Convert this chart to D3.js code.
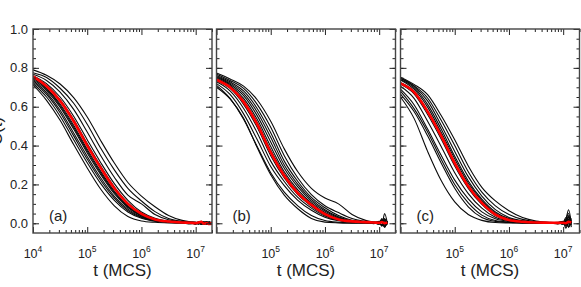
<!DOCTYPE html>
<html><head><meta charset="utf-8">
<script src="https://cdn.jsdelivr.net/npm/d3@7"></script>
<style>body{margin:0;background:#fff}svg{display:block}</style>
</head><body>
<svg id="chart" width="581" height="287"></svg>
<script>
// ---- data ----
const times = [1e4,1.778e4,3.162e4,5.623e4,1e5,1.778e5,3.162e5,5.623e5,1e6,1.778e6,3.162e6,5.623e6,7.943e6,1e7,1.122e7,1.259e7,1.413e7,1.585e7,1.778e7,1.995e7];
const panelLabels = ["(a)","(b)","(c)"];
const yTickValues = [0,0.2,0.4,0.6,0.8,1.0];
const xMajorTicks = [1e4,1e5,1e6,1e7];
const xTitle = "t (MCS)";
const yTitle = "C(t)";

const redA = [.756,.705,.63,.525,.40,.285,.18,.10,.048,.02,.009,.004,.003,.001,.004,.008,-.002,.001,-.004,.002];
const runsA = [
 [.79,.762,.717,.647,.547,.425,.31,.21,.14,.085,.04,.015,.008,.006,.0,.01,.004,-.006,.008,-.002],
 [.775,.75,.695,.618,.51,.386,.275,.18,.115,.06,.025,.01,.006,.004,-.003,.006,.002,.009,-.004,.003],
 [.767,.735,.675,.586,.47,.348,.237,.145,.10,.045,.018,.008,.004,.002,.006,-.002,.005,.0,.007,-.005],
 [.76,.719,.65,.551,.43,.312,.204,.118,.058,.026,.011,.005,.004,.001,-.004,.003,.008,-.001,.004,.0],
 [.748,.695,.614,.505,.381,.267,.166,.09,.043,.018,.008,.004,.0,-.003,.004,.0,-.005,.006,.002,-.003],
 [.742,.683,.598,.485,.362,.25,.152,.081,.038,.016,.007,.004,.002,-.002,.005,-.004,.006,.001,-.005,.004],
 [.735,.672,.582,.465,.344,.233,.139,.073,.033,.013,.007,.004,.0,.003,-.004,.002,.007,-.003,.003,-.006],
 [.728,.663,.569,.45,.33,.22,.13,.066,.03,.012,.006,.003,.004,-.003,.002,-.006,.004,.008,-.002,.001],
 [.72,.65,.551,.43,.312,.204,.118,.058,.026,.011,.005,.003,-.004,.002,.006,-.003,.0,.005,-.004,.007],
 [.713,.633,.53,.405,.285,.175,.09,.035,.012,.005,.002,.001,.003,-.005,.002,.004,-.003,.006,-.002,.003],
 [.75,.69,.606,.495,.372,.258,.159,.085,.04,.017,.008,.004,.002,.004,-.002,.005,-.006,.003,.008,-.003],
 [.757,.71,.637,.534,.41,.294,.188,.105,.051,.022,.009,.005,.003,-.002,.006,-.001,.004,-.005,.002,.006]
];

const redB = [.739,.70,.625,.51,.365,.245,.155,.095,.047,.02,.01,.006,.004,.003,.006,.0,.005];
const runsB = [
 [.773,.743,.706,.636,.525,.383,.265,.18,.13,.10,.045,.015,.007,.003,.012,-.02,.01],
 [.767,.735,.694,.612,.494,.348,.233,.147,.09,.055,.025,.01,.005,.006,-.012,.025,-.004],
 [.761,.728,.681,.591,.466,.32,.215,.133,.08,.04,.016,.008,.003,.002,.015,-.015,.008],
 [.756,.722,.669,.573,.443,.30,.20,.123,.07,.033,.013,.007,.004,.0,-.01,.05,.0],
 [.751,.716,.657,.554,.419,.283,.187,.114,.063,.029,.012,.005,.003,.005,.02,-.01,.012],
 [.745,.71,.643,.535,.395,.265,.172,.105,.056,.025,.011,.005,.002,-.004,.01,.018,-.006],
 [.742,.704,.632,.52,.377,.253,.162,.099,.05,.022,.01,.005,.004,.008,-.015,.012,.006],
 [.735,.694,.612,.494,.348,.233,.147,.088,.043,.018,.009,.004,.006,-.005,.025,-.01,.004],
 [.728,.681,.591,.466,.32,.215,.133,.078,.037,.016,.008,.003,.001,.01,.005,-.02,.008],
 [.719,.663,.563,.431,.292,.194,.118,.067,.031,.013,.006,.003,.002,.0,-.008,.015,.005],
 [.70,.64,.54,.39,.25,.145,.075,.025,.006,.002,.0,.003,-.002,.004,-.01,.02,.0],
 [.71,.643,.535,.395,.26,.16,.09,.04,.014,.005,.002,.0,.003,-.004,.012,.0,-.006]
];

const redC = [.72,.675,.575,.45,.31,.19,.105,.045,.017,.008,.004,.003,.002,.003,.0,.008,.004];
const runsC = [
 [.752,.715,.662,.555,.43,.295,.185,.115,.065,.03,.012,.005,.003,.006,-.01,.04,-.02],
 [.748,.708,.645,.53,.40,.265,.16,.09,.045,.02,.008,.004,.002,-.005,.02,.07,.0],
 [.745,.705,.63,.505,.37,.24,.14,.07,.03,.013,.006,.003,.004,.008,-.015,.03,.01],
 [.74,.698,.612,.485,.345,.218,.124,.058,.024,.011,.005,.003,.001,.0,.012,-.02,.025],
 [.738,.69,.598,.468,.332,.207,.117,.052,.021,.01,.005,.003,.005,-.004,.02,.05,-.01],
 [.715,.666,.56,.434,.295,.18,.097,.04,.016,.008,.004,.002,.003,.01,-.025,.015,.005],
 [.705,.643,.525,.395,.26,.153,.078,.031,.013,.007,.004,.002,.0,.004,.03,-.01,.008],
 [.69,.61,.485,.35,.222,.126,.059,.023,.01,.005,.003,.001,.002,-.003,.01,.035,.0],
 [.68,.59,.47,.33,.20,.105,.042,.014,.006,.003,.002,.0,.004,.006,-.008,.02,.004],
 [.665,.575,.45,.31,.18,.085,.03,.01,.004,.002,.0,.003,-.002,.005,.015,-.02,.01],
 [.65,.54,.37,.22,.11,.045,.015,.004,.002,.001,.0,.002,-.003,.004,.012,.0,-.005],
 [.725,.68,.58,.455,.315,.195,.108,.047,.018,.009,.004,.003,.002,.006,-.006,.03,.002]
];

const panels = [
 {label: panelLabels[0], red: redA, runs: runsA, labels: [1e4,1e5,1e6,1e7]},
 {label: panelLabels[1], red: redB, runs: runsB, labels: [1e5,1e6,1e7]},
 {label: panelLabels[2], red: redC, runs: runsC, labels: [1e5,1e6,1e7]}
];

// ---- layout ----
const FONT = "'Liberation Sans', Arial, Helvetica, sans-serif";
const lefts = [33, 216.5, 400.5];
const W = 179, TOP = 29, BOT = 233;
const svg = d3.select("#chart");
svg.append("rect").attr("width",581).attr("height",287).attr("fill","#fff");

const y = d3.scaleLinear().domain([-0.05, 1.0]).range([BOT, TOP]);
const xMinor = [];
for (let k = 4; k <= 7; k++) for (let m = 2; m <= 9; m++) { const v = m * Math.pow(10,k); if (v <= 2e7) xMinor.push(v); }
const yMinor = d3.range(0, 1.0001, 0.05);

function styleAxis(g){
  g.select(".domain").remove();
  g.selectAll(".tick line").attr("stroke","#222").attr("stroke-width",1);
  g.selectAll(".tick text").remove();
}

panels.forEach((p, i) => {
  const L = lefts[i];
  const x = d3.scaleLog().domain([1e4, 2e7]).range([L, L + W]);
  const g = svg.append("g");
  const cid = "clip" + i;
  svg.append("clipPath").attr("id", cid).append("rect")
    .attr("x", L).attr("y", TOP).attr("width", W).attr("height", BOT - TOP);
  const plot = g.append("g").attr("clip-path", `url(#${cid})`);
  const line = d3.line().x((d, j) => x(times[j])).y(d => y(d)).curve(d3.curveMonotoneX);
  p.runs.forEach(r => {
    plot.append("path").attr("d", line(r)).attr("fill","none")
      .attr("stroke","#0a0a0a").attr("stroke-width",1.1);
  });
  plot.append("path").attr("d", line(p.red)).attr("fill","none")
    .attr("stroke","#ff0000").attr("stroke-width",2.6).attr("stroke-linejoin","round");

  // ticks (all pointing inward)
  g.append("g").attr("transform",`translate(0,${BOT})`).call(d3.axisBottom(x).tickValues(xMinor).tickSize(-3)).call(styleAxis);
  g.append("g").attr("transform",`translate(0,${BOT})`).call(d3.axisBottom(x).tickValues(xMajorTicks).tickSize(-6)).call(styleAxis);
  g.append("g").attr("transform",`translate(0,${TOP})`).call(d3.axisTop(x).tickValues(xMinor).tickSize(-3)).call(styleAxis);
  g.append("g").attr("transform",`translate(0,${TOP})`).call(d3.axisTop(x).tickValues(xMajorTicks).tickSize(-6)).call(styleAxis);
  g.append("g").attr("transform",`translate(${L},0)`).call(d3.axisLeft(y).tickValues(yMinor).tickSize(-3)).call(styleAxis);
  g.append("g").attr("transform",`translate(${L},0)`).call(d3.axisLeft(y).tickValues(yTickValues).tickSize(-6)).call(styleAxis);
  g.append("g").attr("transform",`translate(${L+W},0)`).call(d3.axisRight(y).tickValues(yMinor).tickSize(-3)).call(styleAxis);
  g.append("g").attr("transform",`translate(${L+W},0)`).call(d3.axisRight(y).tickValues(yTickValues).tickSize(-6)).call(styleAxis);

  // frame
  g.append("rect").attr("x", L).attr("y", TOP).attr("width", W).attr("height", BOT - TOP)
    .attr("fill","none").attr("stroke","#444").attr("stroke-width",1.4);

  // x tick labels
  p.labels.forEach(v => {
    const t = g.append("text").attr("x", x(v)).attr("y", 258).attr("text-anchor","middle")
      .attr("font-family", FONT).attr("font-size", 12.5).attr("fill","#222");
    t.append("tspan").text("10");
    t.append("tspan").attr("font-size", 8.5).attr("dy", -6).text(Math.round(Math.log10(v)));
  });

  // x title
  g.append("text").attr("x", L + W/2).attr("y", 276).attr("text-anchor","middle")
    .attr("font-family", FONT).attr("font-size", 17).attr("fill","#222").text(xTitle);

  // panel label
  g.append("text").attr("x", L + 16).attr("y", 221)
    .attr("font-family", FONT).attr("font-size", 15).attr("fill","#222").text(p.label);

  if (i === 0) {
    yTickValues.forEach(v => {
      g.append("text").attr("x", 28).attr("y", y(v) + 4.5).attr("text-anchor","end")
        .attr("font-family", FONT).attr("font-size", 13).attr("fill","#222").text(v.toFixed(1));
    });
  }
});

// y title: in the reference it sits mostly beyond the left edge, only a sliver shows
svg.append("text").attr("transform","translate(2,131) rotate(-90)").attr("text-anchor","middle")
  .attr("font-family", FONT).attr("font-size", 17).attr("fill","#222").text(yTitle);
</script>
</body></html>
